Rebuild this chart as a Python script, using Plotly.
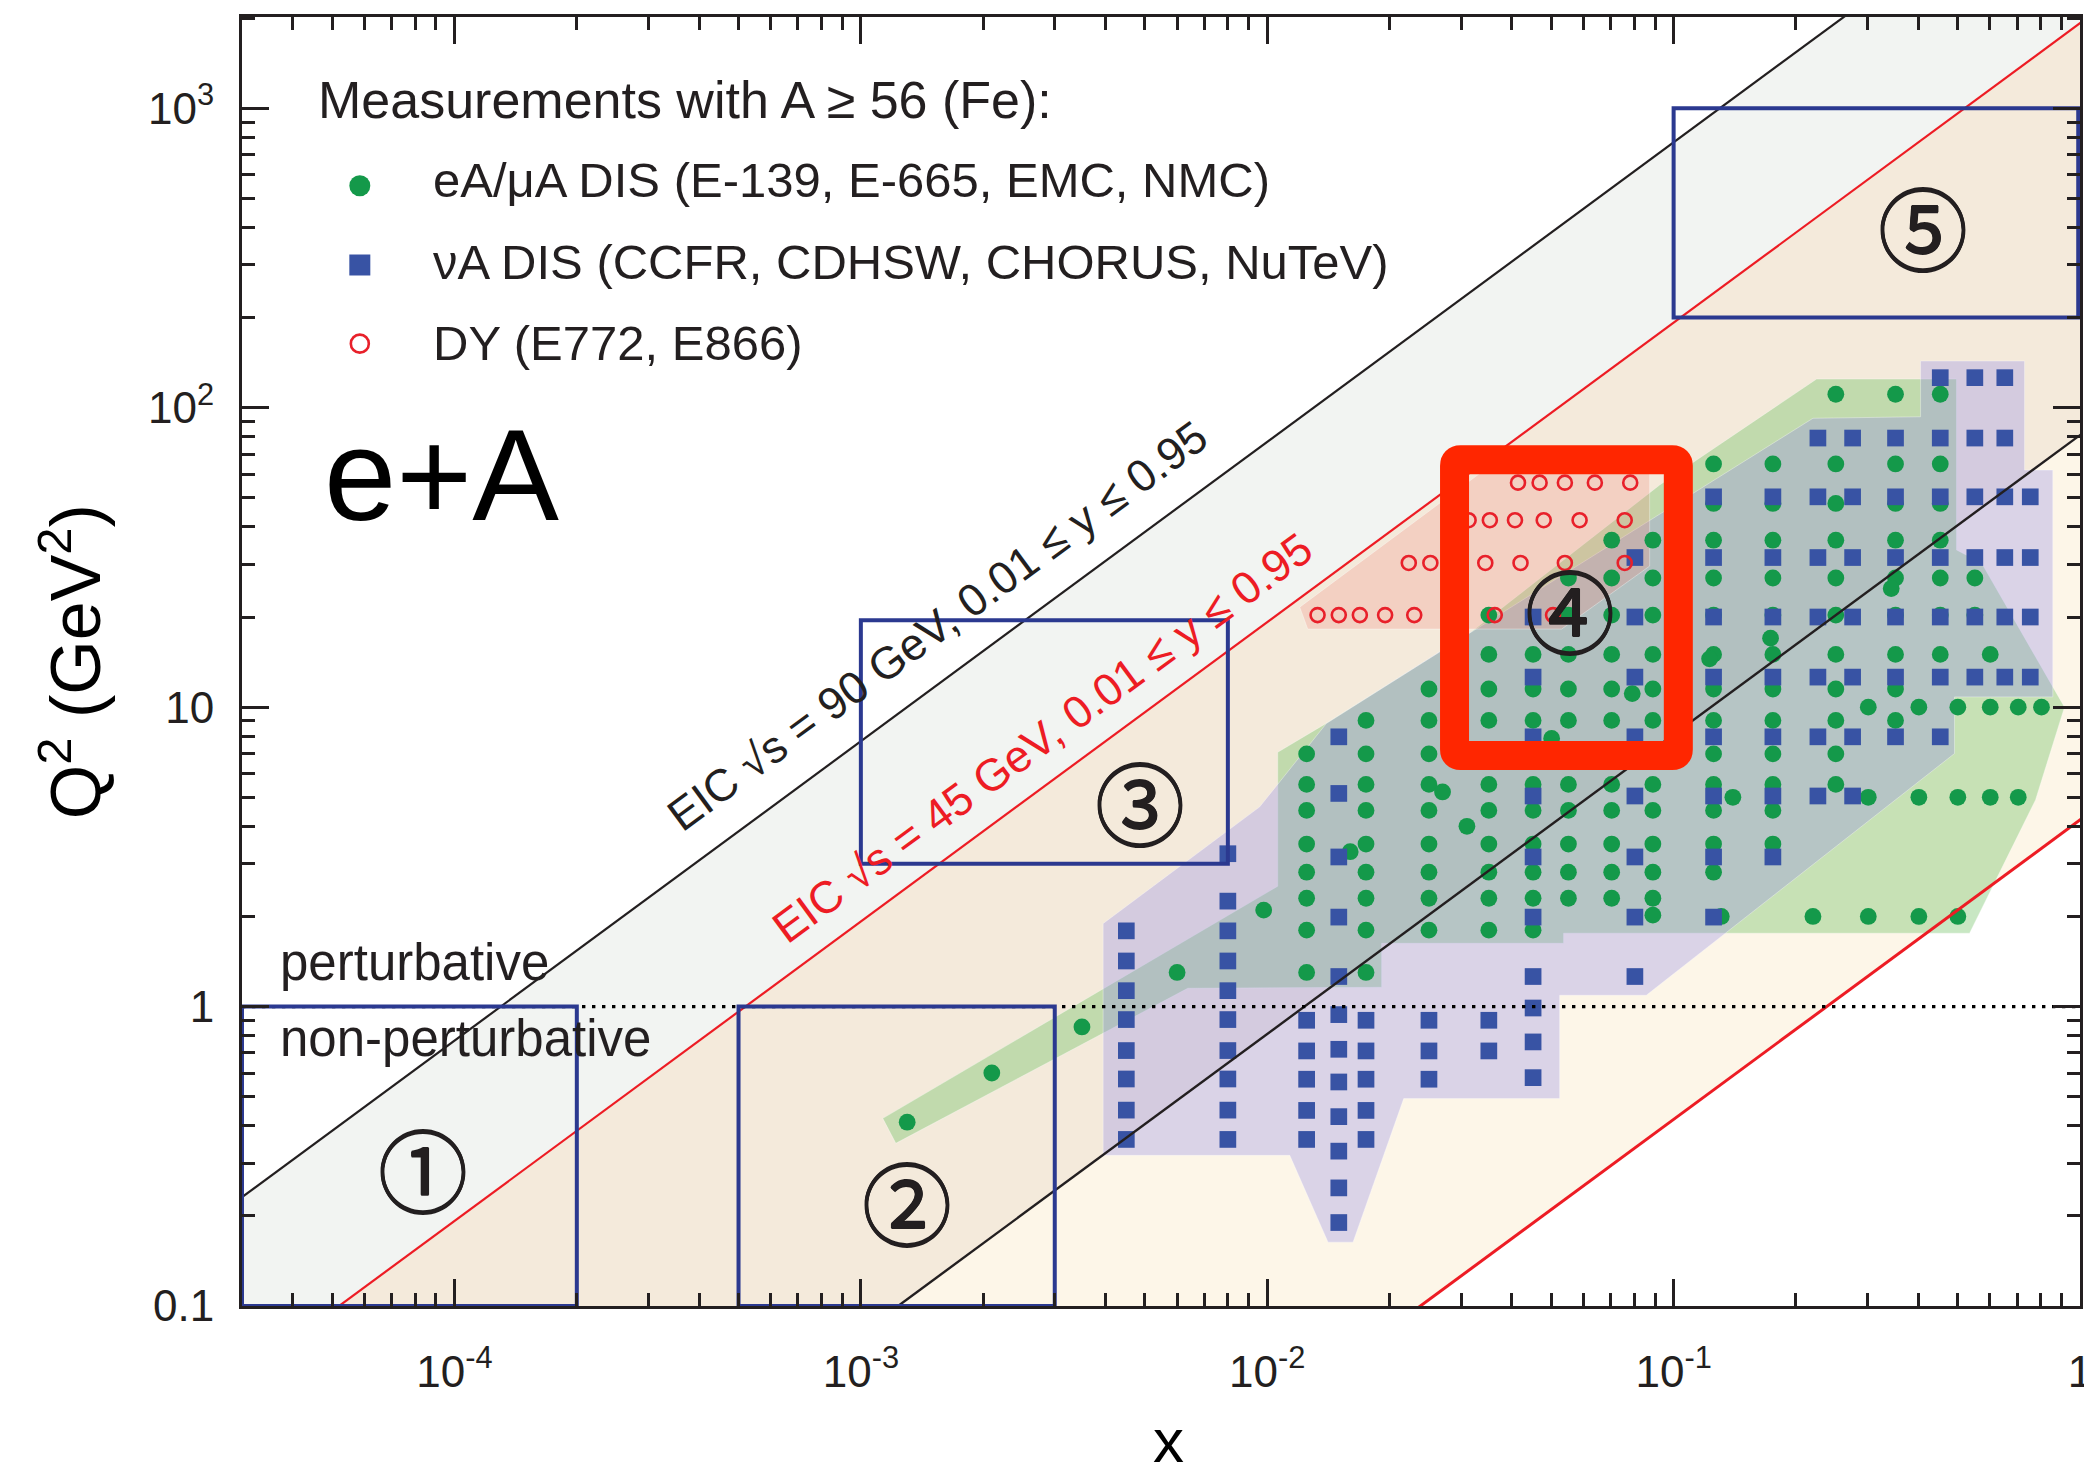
import math
import plotly.graph_objects as go

# ---------------- values ----------------
X_MIN, X_MAX = 3e-5, 1.0
Q2_MIN, Q2_MAX = 0.1, 2018.0

# kinematic limits  Q^2 = s * y * x
S_90 = 90.0 ** 2
S_45 = 45.0 ** 2
Y_MAX = 0.95
Y_MIN = 0.01
LOW_RED_COEF = 4.2          # lower red boundary as drawn in the picture
LINE_X = [1e-6, 10.0]       # lines run past both plot edges (clipped)

# eA / muA DIS (green) -- columns of equal x
EA_COL_X = [0.0125, 0.0175, 0.0250, 0.0351, 0.0451, 0.0551, 0.0704, 0.0889,
            0.1254, 0.1755, 0.2507, 0.3516, 0.4530, 0.5511]
EA_COL_Q2 = [
    [6.98, 5.52, 4.52, 3.49, 2.81, 2.30, 1.80, 1.30],
    [9.03, 6.98, 5.52, 4.52, 3.49, 2.81, 2.30, 1.80, 1.30],
    [11.5, 9.03, 6.98, 5.52, 4.52, 3.49, 2.81, 2.30, 1.80],
    [20.3, 15.0, 11.5, 9.03, 5.52, 4.52, 3.49, 2.81, 2.30, 1.80],
    [15.0, 11.5, 9.03, 5.52, 4.52, 3.49, 2.81, 2.30, 1.80],
    [27.0, 20.3, 15.0, 11.5, 9.03, 5.52, 4.52, 3.49, 2.81, 2.30],
    [36.1, 27.0, 20.3, 15.0, 11.5, 9.03, 5.52, 4.52, 3.49, 2.81, 2.30],
    [36.1, 27.0, 20.3, 15.0, 11.5, 9.03, 5.52, 4.52, 3.49, 2.81, 2.30, 2.02],
    [64.9, 47.9, 36.1, 27.0, 20.3, 15.0, 11.5, 9.03, 6.98, 5.52, 4.52, 3.49, 2.81],
    [64.9, 47.9, 36.1, 27.0, 20.3, 15.0, 11.5, 9.03, 6.98, 5.52, 4.52, 3.49],
    [110.9, 64.9, 47.9, 36.1, 27.0, 20.3, 15.0, 11.5, 9.03, 6.98, 5.52],
    [110.9, 64.9, 47.9, 36.1, 27.0, 20.3, 15.0, 11.5, 9.03],
    [110.9, 64.9, 47.9, 36.1, 27.0, 20.3, 15.0],
    [27.0, 20.3],
]
# eA rows of equal Q^2 at large x
EA_ROW_Q2 = [10.0, 5.0, 2.0]
EA_ROW_X = [
    [0.3013, 0.4013, 0.5005, 0.6013, 0.7047, 0.8039],
    [0.1399, 0.3013, 0.4013, 0.5005, 0.6013, 0.7047],
    [0.1310, 0.2202, 0.3013, 0.4013, 0.5005],
]
# remaining single eA points
EA_ONE_X = [0.0013, 0.0021, 0.0035, 0.0060, 0.0098, 0.0160, 0.0270, 0.0310,
            0.0501, 0.0791, 0.1226, 0.1732, 0.3431, 0.6013]
EA_ONE_Q2 = [0.411, 0.600, 0.855, 1.30, 2.10, 3.29, 5.21, 4.00,
             7.86, 11.1, 14.5, 17.0, 24.9, 15.0]

# nuA DIS (blue squares) -- columns of equal x
NU_COL_X = [0.0045, 0.0080, 0.0125, 0.0150, 0.0175, 0.0250, 0.0351, 0.0451,
            0.0803, 0.1254, 0.1755, 0.2265, 0.2757, 0.3516, 0.4530, 0.5511,
            0.6531, 0.7544]
NU_COL_Q2 = [
    [1.79, 1.42, 1.13, 0.905, 0.713, 0.573, 0.451, 0.360],
    [3.24, 2.25, 1.79, 1.42, 1.13, 0.905, 0.713, 0.573, 0.451, 0.360],
    [0.900, 0.711, 0.572, 0.450, 0.360],
    [7.96, 5.15, 3.16, 1.99, 1.26, 0.940, 0.720, 0.560, 0.429, 0.329, 0.248, 0.190],
    [0.900, 0.711, 0.572, 0.450, 0.360],
    [0.900, 0.711, 0.572],
    [0.900, 0.711],
    [20.0, 12.6, 7.96, 5.05, 3.16, 1.99, 1.26, 0.989, 0.762, 0.579],
    [31.6, 20.0, 12.6, 7.96, 5.05, 3.16, 1.99, 1.26],
    [50.4, 31.6, 20.0, 12.6, 7.96, 5.05, 3.16, 1.99],
    [50.4, 31.6, 20.0, 12.6, 7.96, 5.05, 3.16],
    [79.2, 50.4, 31.6, 20.0, 12.6, 7.96, 5.05],
    [79.2, 50.4, 31.6, 20.0, 12.6, 7.96, 5.05],
    [79.2, 50.4, 31.6, 20.0, 12.6, 7.96],
    [126.0, 79.2, 50.4, 31.6, 20.0, 12.6, 7.96],
    [126.0, 79.2, 50.4, 31.6, 20.0, 12.6],
    [126.0, 79.2, 50.4, 31.6, 20.0, 12.6],
    [50.4, 31.6, 20.0, 12.6],
]

# Drell-Yan (open red circles) -- rows of equal Q^2
DY_ROW_Q2 = [56.2, 42.1, 30.3, 20.3]
DY_ROW_X = [
    [0.0414, 0.0468, 0.0540, 0.0640, 0.0782],
    [0.0313, 0.0353, 0.0407, 0.0479, 0.0587, 0.0758],
    [0.0223, 0.0252, 0.0344, 0.0420, 0.0540, 0.0758],
    [0.0133, 0.0150, 0.0169, 0.0195, 0.0230, 0.0363, 0.0505],
]

# shaded envelopes of the three data sets
EA_HULL_X = [1.132e-3, 0.01061, 0.01061, 0.01385, 0.03149, 0.09237, 0.2248, 0.4968,
             0.4968, 0.5725, 0.9159, 0.7773, 0.5348, 0.0536, 0.0536, 0.01912,
             0.01912, 6.374e-3, 1.219e-3]
EA_HULL_Q2 = [0.4233, 2.523, 7.07, 8.77, 17.67, 55.2, 124.7, 124.7,
              33.5, 30.3, 10.0, 4.90, 1.758, 1.758, 1.627, 1.627,
              1.160, 1.151, 0.3494]
NU_HULL_X = [3.946e-3, 3.946e-3, 9.58e-3, 0.01398, 0.02657, 0.1116, 0.2202, 0.4052,
             0.4052, 0.7304, 0.7304, 0.8571, 0.8571, 0.4911, 0.4911, 0.08566,
             0.05243, 0.05243, 0.02167, 0.01626, 0.01411, 0.01136]
NU_HULL_Q2 = [0.3185, 1.894, 4.645, 8.82, 15.3, 51.8, 92.2, 93.3,
              143.2, 143.2, 61.9, 61.9, 10.82, 10.82, 7.0, 1.091,
              1.091, 0.4928, 0.4928, 0.1634, 0.1634, 0.3185]
DY_HULL_X = [0.01202, 0.01258, 0.05302, 0.0873, 0.0873, 0.03486]
DY_HULL_Q2 = [21.58, 18.23, 18.23, 29.59, 63.1, 63.1]

# EIC regions (boxes 1,2,3,5) and the highlighted region 4
BOX_X0 = [3e-5, 5e-4, 1e-3, 0.1]
BOX_X1 = [2e-4, 3e-3, 8e-3, 0.99]
BOX_Q0 = [0.1, 0.1, 3.0, 200.0]
BOX_Q1 = [1.0, 1.0, 19.5, 1000.0]
HILITE_X = [0.0289, 0.1027]
HILITE_Q2 = [6.9, 67.0]
REGION_LABELS = ["①", "②", "③", "④", "⑤"]
REGION_LABEL_X = [8.37e-5, 1.297e-3, 4.857e-3, 0.05546, 0.4098]
REGION_LABEL_Q2 = [0.291, 0.2253, 4.89, 21.37, 407.8]
PERTURBATIVE_Q2 = 1.0

X_TICKS = [1e-4, 1e-3, 1e-2, 1e-1, 1]
X_TICKTEXT = ["10<sup>-4</sup>", "10<sup>-3</sup>", "10<sup>-2</sup>", "10<sup>-1</sup>", "1"]
Y_TICKS = [0.1, 1, 10, 100, 1000]
Y_TICKTEXT = ["0.1", "1", "10", "10<sup>2</sup>", "10<sup>3</sup>"]

LEGEND_TITLE = "Measurements with A ≥ 56 (Fe):"
LEGEND_NAMES = ["eA/μA DIS (E-139, E-665, EMC, NMC)",
                "νA DIS (CCFR, CDHSW, CHORUS, NuTeV)",
                "DY (E772, E866)"]

# ---------------- styling ----------------
FONT = "Liberation Sans, Arial, Helvetica, sans-serif"
INK = "#231F20"
GREEN = "#14994A"
BLUE = "#3853A4"
RED = "#E8202A"
NAVY = "#2B3990"
ORANGE = "#FF2600"
PX_PER_DECADE_X = 406.5
PX_PER_DECADE_Y = 299.3

fig = go.Figure()


def band(c_hi, c_lo, color):
    xs = [LINE_X[0], LINE_X[1], LINE_X[1], LINE_X[0]]
    ys = [c_hi * LINE_X[0], c_hi * LINE_X[1], c_lo * LINE_X[1], c_lo * LINE_X[0]]
    fig.add_trace(go.Scatter(x=xs, y=ys, mode="lines", fill="toself", fillcolor=color,
                             line=dict(width=0), hoverinfo="skip", showlegend=False))


C_TOP_BLACK = S_90 * Y_MAX
C_TOP_RED = S_45 * Y_MAX
C_LOW_BLACK = S_90 * Y_MIN
C_LOW_RED = LOW_RED_COEF

band(C_TOP_BLACK, C_TOP_RED, "#F2F4F2")
band(C_TOP_RED, C_LOW_BLACK, "#F4EADB")
band(C_LOW_BLACK, C_LOW_RED, "#FDF6E8")

# envelopes
for hx, hy, col in [(EA_HULL_X, EA_HULL_Q2, "rgba(118,194,104,0.40)"),
                    (NU_HULL_X, NU_HULL_Q2, "rgba(150,140,230,0.33)"),
                    (DY_HULL_X, DY_HULL_Q2, "rgba(242,140,130,0.27)")]:
    fig.add_trace(go.Scatter(x=hx + hx[:1], y=hy + hy[:1], mode="lines", fill="toself",
                             fillcolor=col, line=dict(width=1, color="rgba(255,255,255,0.35)"),
                             hoverinfo="skip", showlegend=False))

# data points
ea_x, ea_q = [], []
for xv, qs in zip(EA_COL_X, EA_COL_Q2):
    ea_x += [xv] * len(qs)
    ea_q += qs
for qv, xs in zip(EA_ROW_Q2, EA_ROW_X):
    ea_x += xs
    ea_q += [qv] * len(xs)
ea_x += EA_ONE_X
ea_q += EA_ONE_Q2
fig.add_trace(go.Scatter(x=ea_x, y=ea_q, mode="markers", name=LEGEND_NAMES[0],
                         marker=dict(symbol="circle", size=16.8, color=GREEN, line=dict(width=0)),
                         showlegend=False))

nu_x, nu_q = [], []
for xv, qs in zip(NU_COL_X, NU_COL_Q2):
    nu_x += [xv] * len(qs)
    nu_q += qs
fig.add_trace(go.Scatter(x=nu_x, y=nu_q, mode="markers", name=LEGEND_NAMES[1],
                         marker=dict(symbol="square", size=16.7, color=BLUE, line=dict(width=0)),
                         showlegend=False))

dy_x, dy_q = [], []
for qv, xs in zip(DY_ROW_Q2, DY_ROW_X):
    dy_x += xs
    dy_q += [qv] * len(xs)
fig.add_trace(go.Scatter(x=dy_x, y=dy_q, mode="markers", name=LEGEND_NAMES[2],
                         marker=dict(symbol="circle-open", size=14, color=RED, line=dict(width=2.6)),
                         showlegend=False))

# kinematic lines
for c, col, w in [(C_TOP_BLACK, INK, 2.2), (C_TOP_RED, "#ED1C24", 2.2),
                  (C_LOW_BLACK, INK, 2.4), (C_LOW_RED, "#ED1C24", 3.0)]:
    fig.add_trace(go.Scatter(x=LINE_X, y=[c * LINE_X[0], c * LINE_X[1]], mode="lines",
                             line=dict(color=col, width=w), hoverinfo="skip", showlegend=False))

# perturbative / non-perturbative divider
fig.add_trace(go.Scatter(x=[X_MIN, X_MAX], y=[PERTURBATIVE_Q2, PERTURBATIVE_Q2], mode="lines",
                         line=dict(color="black", width=3.4, dash="3.4px,6.6px"),
                         hoverinfo="skip", showlegend=False))

# region boxes
for x0, x1, q0, q1 in zip(BOX_X0, BOX_X1, BOX_Q0, BOX_Q1):
    fig.add_trace(go.Scatter(x=[x0, x1, x1, x0, x0, x1], y=[q0, q0, q1, q1, q0, q0], mode="lines",
                             line=dict(color=NAVY, width=4), hoverinfo="skip", showlegend=False))

# highlighted region 4: thick frame with rounded outer corners (shape in data units)
hx0, hx1 = HILITE_X
hq0, hq1 = HILITE_Q2
kx = 10 ** (6.0 / PX_PER_DECADE_X)   # 6 px corner rounding of the centre line
ky = 10 ** (6.0 / PX_PER_DECADE_Y)
hpath = (f"M {hx0*kx},{hq0} L {hx1/kx},{hq0} Q {hx1},{hq0} {hx1},{hq0*ky} "
         f"L {hx1},{hq1/ky} Q {hx1},{hq1} {hx1/kx},{hq1} "
         f"L {hx0*kx},{hq1} Q {hx0},{hq1} {hx0},{hq1/ky} "
         f"L {hx0},{hq0*ky} Q {hx0},{hq0} {hx0*kx},{hq0} Z")
shapes = [dict(type="path", xref="x", yref="y", path=hpath,
               line=dict(color=ORANGE, width=29), fillcolor="rgba(0,0,0,0)", layer="above")]

# ---------------- legend (hand placed, paper coordinates) ----------------
LEG_MARK_X = 0.0641
LEG_MARK_Y = [0.8691, 0.8076, 0.7466]
LEG_TEXT_X = 0.1030
LEG_TEXT_Y = [0.8733, 0.8097, 0.7468]
leg_markers = [dict(symbol="circle", size=21, color=GREEN, line=dict(width=0)),
               dict(symbol="square", size=21, color=BLUE, line=dict(width=0)),
               dict(symbol="circle-open", size=18, color=RED, line=dict(width=2.6))]
for yy, mk in zip(LEG_MARK_Y, leg_markers):
    fig.add_trace(go.Scatter(x=[LEG_MARK_X], y=[yy], xaxis="x2", yaxis="y2", mode="markers",
                             marker=mk, hoverinfo="skip", showlegend=False))

ann = []
ann.append(dict(text=LEGEND_TITLE, x=0.0402, y=0.9354, xref="paper", yref="paper",
                xanchor="left", yanchor="middle", showarrow=False,
                font=dict(family=FONT, size=52, color=INK)))
for name, yy in zip(LEGEND_NAMES, LEG_TEXT_Y):
    ann.append(dict(text=name, x=LEG_TEXT_X, y=yy, xref="paper", yref="paper",
                    xanchor="left", yanchor="middle", showarrow=False,
                    font=dict(family=FONT, size=49, color=INK)))

ann.append(dict(text="e+A", x=0.1088, y=0.6445, xref="paper", yref="paper",
                xanchor="center", yanchor="middle", showarrow=False,
                font=dict(family=FONT, size=130, color="black")))
ann.append(dict(text="perturbative", x=0.0195, y=0.2664, xref="paper", yref="paper",
                xanchor="left", yanchor="middle", showarrow=False,
                font=dict(family=FONT, size=51, color=INK)))
ann.append(dict(text="non-perturbative", x=0.0195, y=0.2075, xref="paper", yref="paper",
                xanchor="left", yanchor="middle", showarrow=False,
                font=dict(family=FONT, size=51, color=INK)))

angle = -math.degrees(math.atan(PX_PER_DECADE_Y / PX_PER_DECADE_X))
ann.append(dict(text="EIC √s = 90 GeV, 0.01 ≤ y ≤ 0.95", x=0.3786, y=0.5280,
                xref="paper", yref="paper", textangle=angle, showarrow=False,
                xanchor="center", yanchor="middle",
                font=dict(family=FONT, size=45, color=INK)))
ann.append(dict(text="EIC √s = 45 GeV, 0.01 ≤ y ≤ 0.95", x=0.4357, y=0.4410,
                xref="paper", yref="paper", textangle=angle, showarrow=False,
                xanchor="center", yanchor="middle",
                font=dict(family=FONT, size=45, color="#ED1C24")))

thick = "0.6px 0 0 #231F20, -0.6px 0 0 #231F20, 0 0.6px 0 #231F20, 0 -0.6px 0 #231F20"
for lab, lx, lq in zip(REGION_LABELS, REGION_LABEL_X, REGION_LABEL_Q2):
    ann.append(dict(text=lab, x=math.log10(lx), y=math.log10(lq), xref="x", yref="y",
                    xanchor="center", yanchor="middle", showarrow=False,
                    font=dict(family="Noto Sans CJK JP", size=90, color=INK, shadow=thick)))

# axis titles
ann.append(dict(text="x", x=0.5042, y=-0.1047, xref="paper", yref="paper",
                xanchor="center", yanchor="middle", showarrow=False,
                font=dict(family=FONT, size=62, color="black")))
ann.append(dict(text="Q<sup>2</sup> (GeV<sup>2</sup>)", x=-0.093, y=0.4995, xref="paper", yref="paper",
                xanchor="center", yanchor="middle", textangle=-90, showarrow=False,
                font=dict(family=FONT, size=70, color="black")))

x_minor = [m * 10.0 ** e for e in range(-5, 1) for m in range(2, 10) if X_MIN < m * 10.0 ** e < X_MAX]
y_minor = [m * 10.0 ** e for e in range(-1, 4) for m in range(2, 10) if Q2_MIN < m * 10.0 ** e < Q2_MAX]

axis_common = dict(type="log", showgrid=False, zeroline=False, showline=True,
                   linecolor=INK, linewidth=3, mirror="ticks", ticks="inside",
                   ticklen=27, tickwidth=2.5, tickcolor=INK, ticklabeloverflow="allow",
                   tickfont=dict(family=FONT, size=44, color=INK))

fig.update_layout(
    width=2084, height=1479,
    margin=dict(l=242, r=4, t=17, b=173, autoexpand=False),
    paper_bgcolor="white", plot_bgcolor="white",
    showlegend=False,
    xaxis=dict(range=[math.log10(X_MIN), math.log10(X_MAX)], tickmode="array",
               tickvals=X_TICKS, ticktext=X_TICKTEXT, ticklabelstandoff=25,
               minor=dict(tickmode="array", tickvals=x_minor, ticks="inside", ticklen=13,
                          tickwidth=2.5, tickcolor=INK, showgrid=False),
               **axis_common),
    yaxis=dict(range=[math.log10(Q2_MIN), math.log10(Q2_MAX)], tickmode="array",
               tickvals=Y_TICKS, ticktext=Y_TICKTEXT, ticklabelstandoff=16,
               minor=dict(tickmode="array", tickvals=y_minor, ticks="inside", ticklen=13,
                          tickwidth=2.5, tickcolor=INK, showgrid=False),
               **axis_common),
    xaxis2=dict(overlaying="x", anchor="y2", range=[0, 1], visible=False, fixedrange=True),
    yaxis2=dict(overlaying="y", anchor="x2", range=[0, 1], visible=False, fixedrange=True),
    shapes=shapes,
    annotations=ann,
)

# remove the page body's default 8 px margin and any scrollbars so the
# 2084x1479 figure fills the window exactly
page_fix = ("document.documentElement.style.overflow='hidden';"
            "document.body.style.overflow='hidden';"
            "document.body.style.margin='0px';")
fig.write_html("out.html", post_script=page_fix,
               config={"displayModeBar": False, "responsive": False})
